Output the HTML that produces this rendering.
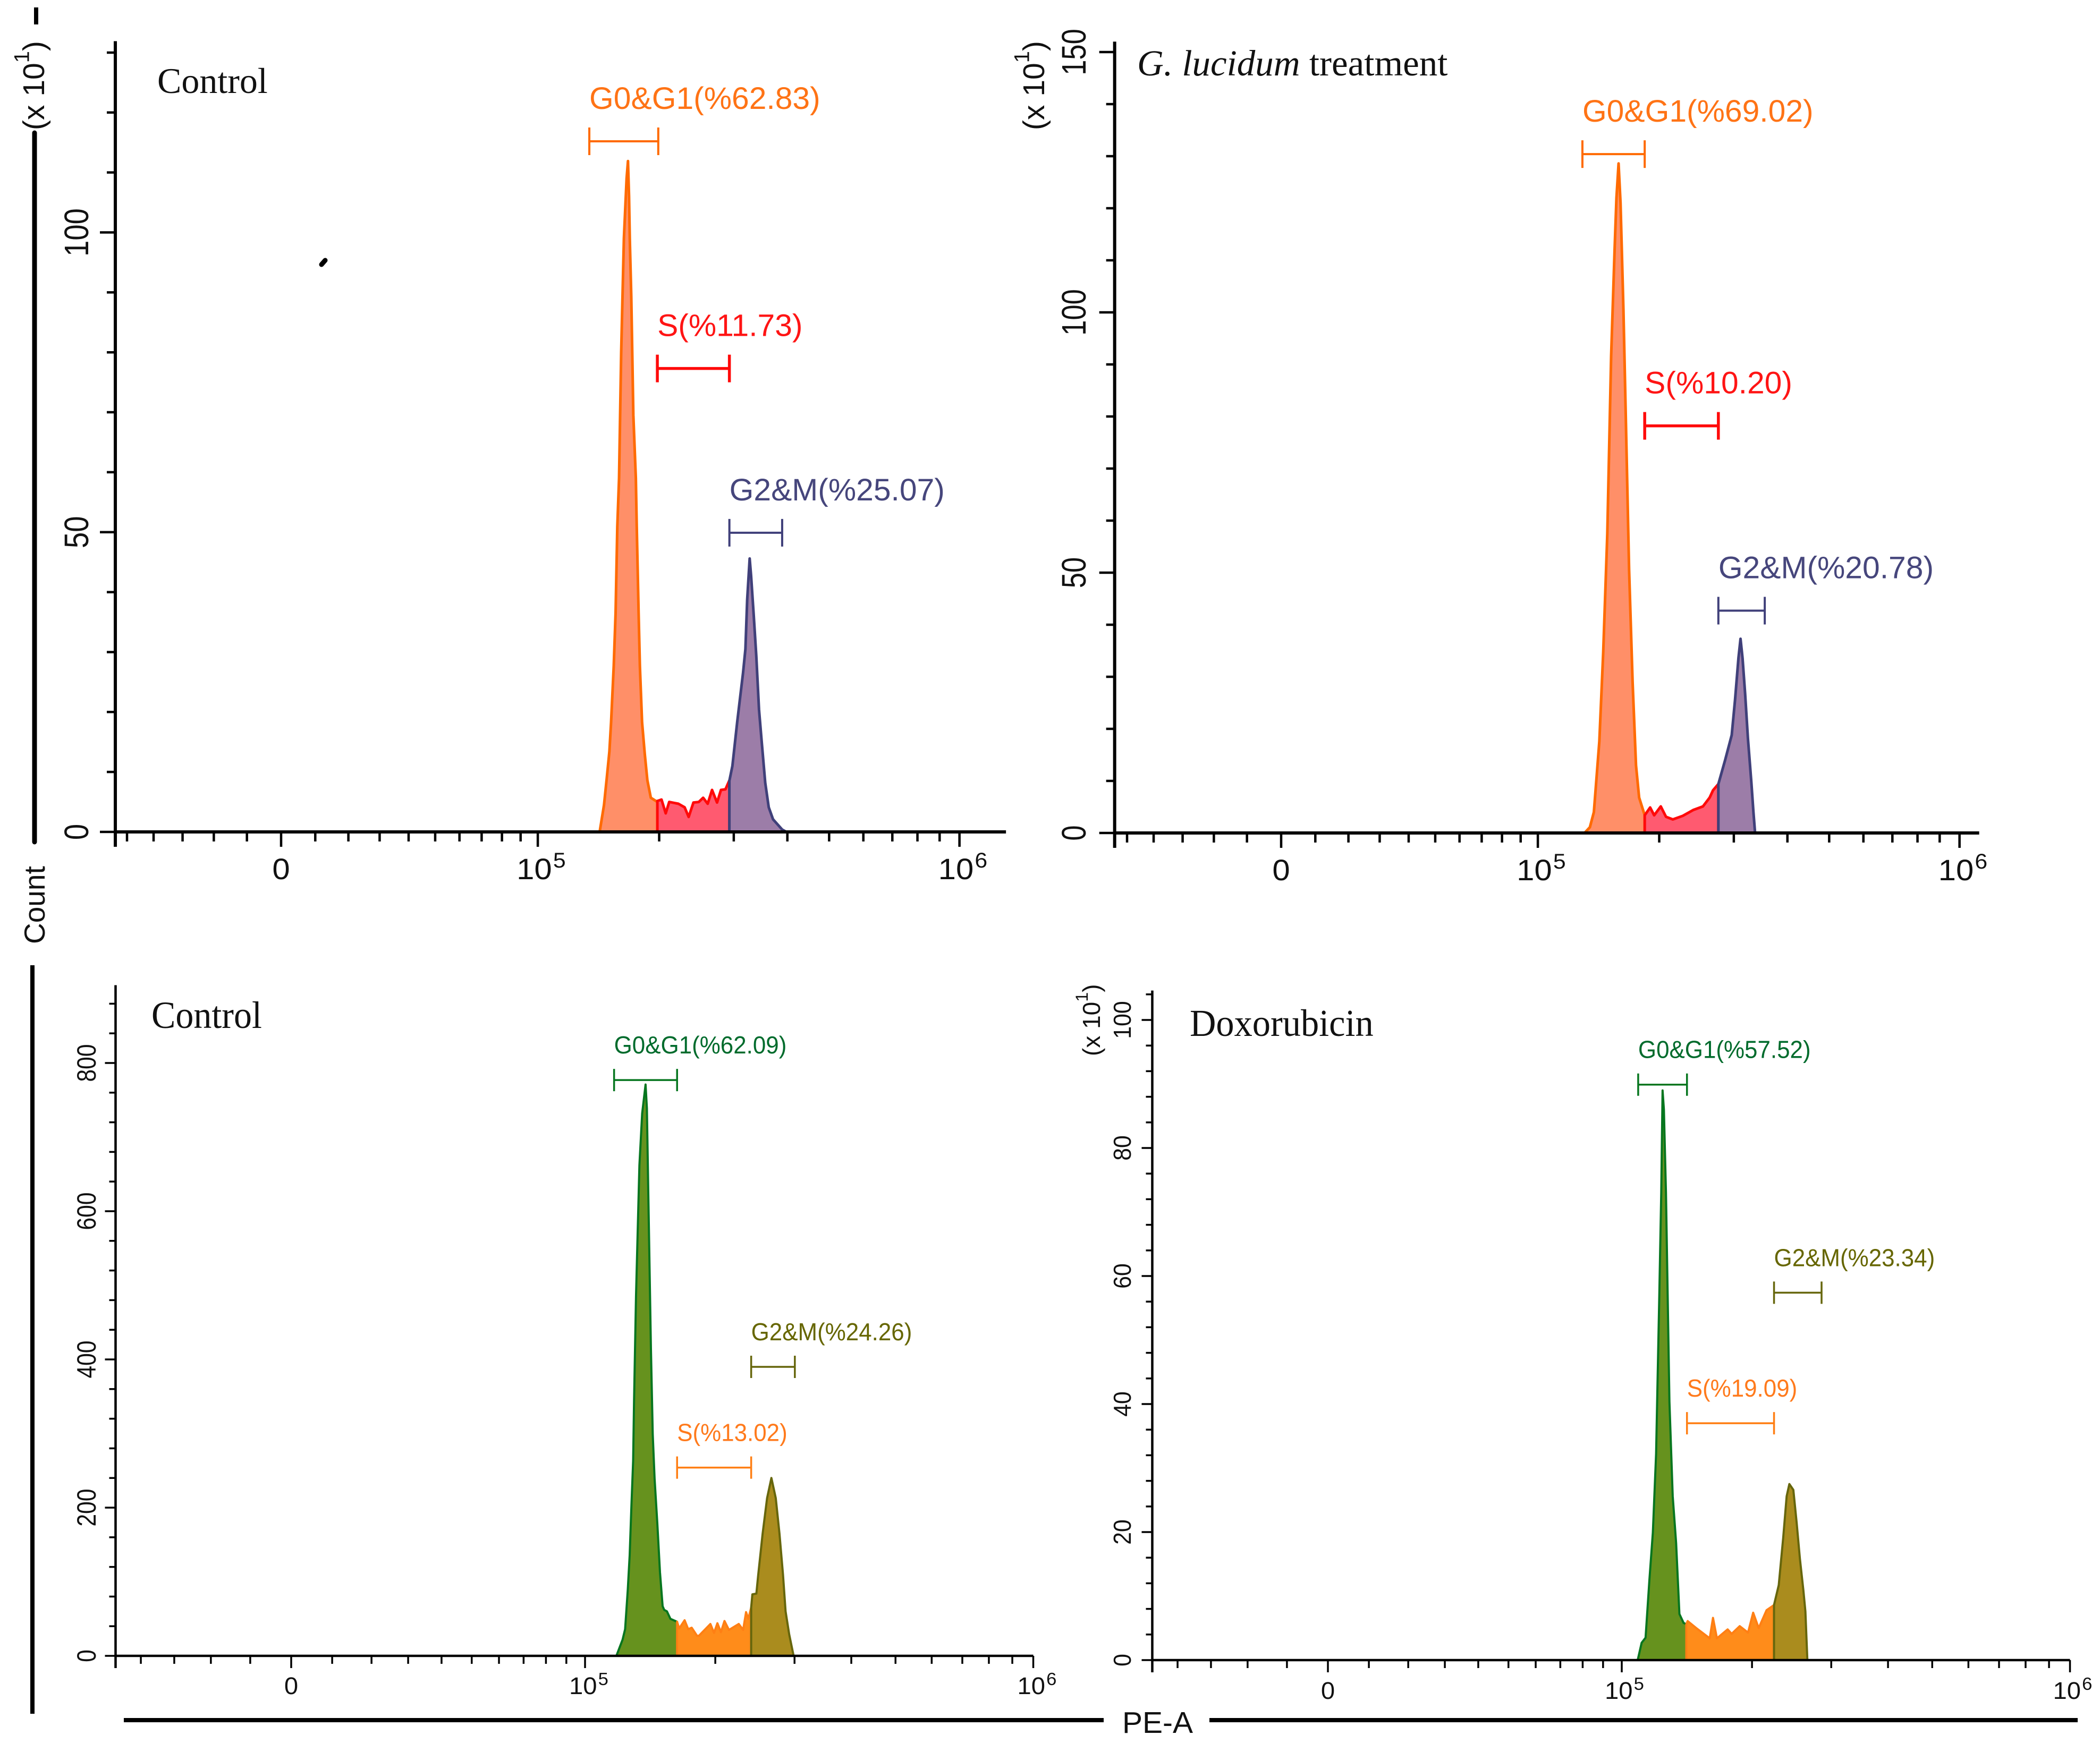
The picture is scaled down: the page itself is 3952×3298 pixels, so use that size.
<!DOCTYPE html>
<html lang="en">
<head>
<meta charset="utf-8">
<title>Cell cycle flow cytometry histograms</title>
<style>
html,body{margin:0;padding:0;background:#fff;}
svg{display:block;}
text{font-family:"Liberation Sans",sans-serif;}
.serif{font-family:"Liberation Serif",serif;}
</style>
</head>
<body>
<svg id="figure" xmlns="http://www.w3.org/2000/svg" width="3952" height="3298" viewBox="0 0 3952 3298">
  <rect x="0" y="0" width="3952" height="3298" fill="#ffffff"/>
  <line x1="68" y1="14" x2="68" y2="46" stroke="#000" stroke-width="8"/>
  <line x1="65" y1="250" x2="65" y2="1585" stroke="#000" stroke-width="9" stroke-linecap="round"/>
  <line x1="61" y1="1817" x2="61" y2="3226" stroke="#000" stroke-width="8"/>
  <text transform="translate(84,1777) rotate(-90)" font-size="55" fill="#111">Count</text>
  <line x1="233" y1="3238" x2="2077" y2="3238" stroke="#000" stroke-width="8"/>
  <line x1="2276" y1="3238" x2="3910" y2="3238" stroke="#000" stroke-width="8"/>
  <text x="2112" y="3262" font-size="57" fill="#111">PE-A</text>
  <line x1="605" y1="498" x2="612" y2="490" stroke="#000" stroke-width="9" stroke-linecap="round"/>
  <g id="panels"></g>
</svg>
<script>
// ---------- shared axis values (PE-A in thousands) ----------
const xMinorTicks = [-50,-40,-30,-20,-10,10,20,30,40,50,60,70,80,90,200,300,400,500,600,700,800,900];
const xMajorTicks = [0,100,1000];
const xTickBase = ['0','10','10'];
const xTickExponent = ['','5','6'];

// ---------- panel A: control ----------
const aPeA = [143.5,147.1,149.4,151.6,153.1,155.4,157,158.5,160.1,162,164.5,167,168.3,169.3,170,171.4,173.4,175.8,176.7,178.5,179.8,182,184.7,187.4,191,197,202.6,207.3,211.3,222.2,229.9,235,241.2,248.3,254.3,260.6,266.8,274.1,280,286.8,293.1,297.8,305.6,315.3,319.4,322.4,326.8,329.3,334,338.7,343.6,348.6,355.3,362,370.5,389,398];
const aCounts = [0,4.5,9,13.4,18.3,27.7,36.6,50.9,59,80,99,109,111.9,106,99,89.3,69.5,59,50.9,36.6,27.7,18.3,13,8.6,5.7,5.1,5.4,3.1,5,4.7,4.1,2.5,4.9,5,5.7,4.7,7,4.9,7,7.1,8.6,11,18.3,26.5,30.5,38.7,45.6,42.7,36.2,29.3,20.4,15.1,8.2,4.1,2.1,0.4,0];
const aRegionEdges = [198,293];
const aGateStart = [135.3,198,293];
const aGateEnd = [199,293,389];
const aGateLevel = [115.2,77.3,49.9];
const aGateNames = ['G0&G1','S','G2&M'];
const aGatePercent = ['62.83','11.73','25.07'];
const aYMajor = [0,50,100];
const aYMinor = [10,20,30,40,60,70,80,90,110,120,130];

// ---------- panel B: G. lucidum treatment ----------
const bPeA = [131.6,135.7,138.8,143.2,146.4,149.8,153.1,156.1,157.7,159.6,161.4,164,166.4,169.3,172.6,175.9,179,184.6,190.2,194.5,201.7,207.6,215.5,227.6,240.6,253.9,263.3,268.2,276,286.2,296.6,302,307.6,311,314.4,318.9,323.6,329.7,333.4,336.4];
const bCounts = [0,1.1,4,17.6,34.7,57.5,91.6,112,122,128.6,121,100.7,78,50.6,29,13,6.8,3.4,4.9,3.4,5.1,3.1,2.6,3.3,4.4,5.1,6.8,8.2,9.4,14,18.8,25.6,33.6,37.3,33.6,26.7,18.2,9.7,4,0];
const bRegionEdges = [184.6,276];
const bGateStart = [130,184.6,276];
const bGateEnd = [184.6,276,354.3];
const bGateLevel = [130.4,78.2,42.7];
const bGateNames = ['G0&G1','S','G2&M'];
const bGatePercent = ['69.02','10.20','20.78'];
const bYMajor = [0,50,100,150];
const bYMinor = [10,20,30,40,60,70,80,90,110,120,130,140];

// ---------- panel C: control ----------
const cPeA = [118.8,122.8,124.5,126.3,127.6,128.8,130,130.6,132,134.4,136.4,138.9,139.9,140.9,142.9,144.3,145.7,147.8,149.9,152,153.3,155.5,158.4,164,165.8,170.6,173.8,177,182,183.7,195,198.7,202.2,205.9,209.7,214.6,225.7,230.8,234.3,237,240.5,242,247,249.2,255,260.9,266.7,272.7,277.9,282.9,286.7,292,298.6];
const cCounts = [0,21.8,36,89,136,203,263,343,485,662,732,771,739,626,414,299,239,179,113,67,62,60,50,46,37,48,36,38,27,27,43,31,44,32,47,35,43,35,59,50,65,83,84,108,165,213,240,213,165,110,60,29,0];
const cRegionEdges = [164,240.5];
const cGateStart = [117.3,164,240.5];
const cGateEnd = [164,240.5,300.5];
const cGateLevel = [777,254,390];
const cGateNames = ['G0&G1','S','G2&M'];
const cGatePercent = ['62.09','13.02','24.26'];
const cYMajor = [0,200,400,600,800];
const cYMinor = [40,80,120,160,240,280,320,360,440,480,520,560,640,680,720,760,840,880];

// ---------- panel D: doxorubicin ----------
const dPeA = [109.2,111.6,114,116.4,118.6,120.7,122.8,124.1,125,125.9,127.3,129.7,132,134.4,136.8,139.9,141.9,142.9,149.6,160.5,163.3,166.7,176.3,180,187.7,195.9,201.2,207,215.6,224,229.5,234.8,239,242.3,247.3,251.5,255.8,260.3,263,265.7];
const dCounts = [0,2.7,3.5,12.5,19.9,32.2,56.8,73,89,86,73,40.4,25.6,18.3,7.2,5.8,5.6,6.1,5,3.4,6.6,3.4,4.8,4.1,5.3,4.3,7.4,5,7.8,8.6,11.7,19.1,25.6,27.5,26.6,21.5,15.8,10.9,7.6,0];
const dRegionEdges = [141.9,224];
const dGateStart = [109.5,142.4,224];
const dGateEnd = [142.4,224,285.6];
const dGateLevel = [89.9,37,57.4];
const dGateNames = ['G0&G1','S','G2&M'];
const dGatePercent = ['57.52','19.09','23.34'];
const dYMajor = [0,20,40,60,80,100];
const dYMinor = [4,8,12,16,24,28,32,36,44,48,52,56,64,68,72,76,84,88,92,96,104];

const SVGNS = 'http://www.w3.org/2000/svg';
const warmPalette = {
  stroke:['#ff6a00','#ff0a0a','#40407a'],
  fill:['#ff8f68','#ff5a70','#9c7da8'],
  text:['#ff7315','#ff1414','#46467c']
};
const greenPalette = {
  stroke:['#06761f','#ff7f14','#66660c'],
  fill:['#66921e','#ff8c1a','#aa8c1e'],
  text:['#006b2c','#ff7a1c','#666600']
};

function mk(tag, parent, attrs){
  const el = document.createElementNS(SVGNS, tag);
  for (const k in attrs) el.setAttribute(k, attrs[k]);
  parent.appendChild(el);
  return el;
}
function named(el, name){
  
  
  return el;
}
function regionPoints(pe, counts, lo, hi){
  const pts = [];
  const at = v => {
    for (let i = 1; i < pe.length; i++) {
      if (v <= pe[i]) {
        const f = (v - pe[i-1]) / (pe[i] - pe[i-1]);
        return counts[i-1] + f * (counts[i] - counts[i-1]);
      }
    }
    return 0;
  };
  pts.push([lo, at(lo)]);
  for (let i = 0; i < pe.length; i++) if (pe[i] > lo && pe[i] < hi) pts.push([pe[i], counts[i]]);
  pts.push([hi, at(hi)]);
  return pts;
}

function drawPanel(c){
  const root = document.getElementById('panels');
  const g = named(mk('g', root, {}), c.id);
  const xs = v => c.x0 + c.A * Math.asinh(v / c.w);
  const ys = v => c.y0 - c.k * v;

  // histogram regions
  const first = c.pe[0], last = c.pe[c.pe.length - 1];
  const edges = [first].concat(c.edges, [last]);
  for (let r = 0; r < 3; r++) {
    const pts = regionPoints(c.pe, c.counts, edges[r], edges[r+1]);
    let d = 'M' + xs(edges[r]).toFixed(1) + ',' + ys(0).toFixed(1);
    pts.forEach(p => { d += ' L' + xs(p[0]).toFixed(1) + ',' + ys(p[1]).toFixed(1); });
    d += ' L' + xs(edges[r+1]).toFixed(1) + ',' + ys(0).toFixed(1) + ' Z';
    const region = mk('path', g, {d:d, fill:c.pal.fill[r], stroke:c.pal.stroke[r], 'stroke-width':c.histStroke, 'stroke-linejoin':'round'});
    named(region, c.id + '-region-' + c.names[r].toLowerCase().replace('&','-'));
  }

  // gates and labels
  for (let i = 0; i < 3; i++) {
    const x1 = xs(c.gateStart[i]), x2 = xs(c.gateEnd[i]), y = ys(c.gateLevel[i]);
    const sw = (i === 1 && c.thickS) ? 5.5 : c.gateStroke;
    const gate = named(mk('path', g, {d:'M'+x1+','+(y-c.cap)+' V'+(y+c.cap)+' M'+x1+','+y+' H'+x2+' M'+x2+','+(y-c.cap)+' V'+(y+c.cap), fill:'none', stroke:c.pal.stroke[i], 'stroke-width':sw}), c.id + '-gate-' + i);
    gate.setAttribute('data-gate', c.names[i]);
    const label = mk('text', g, {transform:'translate('+x1+','+(y-c.labelGap)+') scale('+c.labelSx+',1)', 'font-size':c.labelSize, fill:c.pal.text[i]});
    label.textContent = c.names[i] + '(%' + c.percent[i] + ')';
    named(label, c.id + '-gate-label-' + i);
  }

  // axes
  const axisColor = '#000';
  named(mk('line', g, {x1:xs(c.xmin), x2:xs(c.xmax), y1:ys(0), y2:ys(0), stroke:axisColor, 'stroke-width':c.axisW}), c.id + '-x-axis');
  named(mk('line', g, {x1:xs(c.xmin), x2:xs(c.xmin), y1:ys(c.ymax), y2:ys(0) + c.xMajorLen, stroke:axisColor, 'stroke-width':c.axisW}), c.id + '-y-axis');

  xMinorTicks.filter(v => v > c.xmin && v < c.xmax).forEach(v => {
    named(mk('line', g, {x1:xs(v), x2:xs(v), y1:ys(0), y2:ys(0) + c.xMinorLen, stroke:axisColor, 'stroke-width':c.tickW}), c.id + '-x-minor-tick');
  });
  xMajorTicks.forEach((v, i) => {
    named(mk('line', g, {x1:xs(v), x2:xs(v), y1:ys(0), y2:ys(0) + c.xMajorLen, stroke:axisColor, 'stroke-width':c.tickW}), c.id + '-x-major-tick');
    const off = i === 0 ? 0 : c.expOffset;
    const t = mk('text', g, {transform:'translate('+(xs(v) - off)+','+c.xLabelY+') scale('+c.xLabelSx+',1)', 'font-size':c.xLabelSize, fill:'#111', 'text-anchor': i === 0 ? 'middle' : 'start'});
    named(t, c.id + '-x-tick-label');
    t.textContent = xTickBase[i];
    if (xTickExponent[i]) {
      const s = mk('tspan', t, {'font-size':c.xExpSize, dy:c.xExpDy, dx:2});
      s.textContent = xTickExponent[i];
    }
  });

  c.yMinor.forEach(v => {
    named(mk('line', g, {x1:xs(c.xmin) - c.yMinorLen, x2:xs(c.xmin), y1:ys(v), y2:ys(v), stroke:axisColor, 'stroke-width':c.tickW}), c.id + '-y-minor-tick');
  });
  c.yMajor.forEach(v => {
    named(mk('line', g, {x1:xs(c.xmin) - c.yMajorLen, x2:xs(c.xmin), y1:ys(v), y2:ys(v), stroke:axisColor, 'stroke-width':c.tickW}), c.id + '-y-major-tick');
    const t = mk('text', g, {transform:'translate('+c.yLabelX+','+ys(v)+') rotate(-90) scale('+c.yLabelSx+',1)', 'font-size':c.yLabelSize, fill:'#111', 'text-anchor':'middle'});
    named(t, c.id + '-y-tick-label');
    t.textContent = String(v);
  });

  // multiplier
  if (c.mult) {
    const t = mk('text', g, {transform:'translate('+c.mult.x+','+c.mult.y+') rotate(-90)', 'font-size':c.mult.size, fill:'#111'});
    named(t, c.id + '-y-multiplier');
    t.textContent = '(x 10';
    const s1 = mk('tspan', t, {'font-size':c.mult.size * 0.7, dy:-c.mult.size * 0.5});
    s1.textContent = '1';
    const s2 = mk('tspan', t, {dy:c.mult.size * 0.5});
    s2.textContent = ')';
  }

  // title
  const title = mk('text', g, {transform:'translate('+c.title.x+','+c.title.y+') scale('+c.title.sx+',1)', 'font-size':c.title.size, fill:'#111', 'class':'serif'});
  named(title, c.id + '-title');
  if (c.title.italic) {
    const it = mk('tspan', title, {'font-style':'italic'});
    it.textContent = c.title.italic;
    const rest = mk('tspan', title, {});
    rest.textContent = c.title.text;
  } else {
    title.textContent = c.title.text;
  }
}

const topStyle = {A:355, w:54.9, pal:warmPalette, histStroke:5, gateStroke:4, thickS:true, cap:26, labelGap:61, labelSize:58.8, labelSx:1,
  axisW:6, tickW:4.5, xMajorLen:28, xMinorLen:18, yMajorLen:29, yMinorLen:16, xLabelSize:56, xLabelSx:1.07, xExpSize:40, xExpDy:-22, yLabelSize:64};
const botStyle = {A:375, w:48.3, pal:greenPalette, histStroke:4, gateStroke:3.5, thickS:false, cap:21, labelGap:50, labelSize:46, labelSx:0.955,
  axisW:4.5, tickW:3.5, xMajorLen:23, xMinorLen:15, yMajorLen:20, yMinorLen:12, xLabelSize:45, xLabelSx:1.05, xExpSize:33, xExpDy:-17, yLabelSize:50};

drawPanel(Object.assign({}, topStyle, {id:'panel-control-top', x0:529, xmin:-54.7, xmax:1280, y0:1566, k:11.285, ymax:131.9,
  pe:aPeA, counts:aCounts, edges:aRegionEdges, gateStart:aGateStart, gateEnd:aGateEnd, gateLevel:aGateLevel, names:aGateNames, percent:aGatePercent,
  yMajor:aYMajor, yMinor:aYMinor, yLabelX:166, yLabelSx:0.85, xLabelY:1655, expOffset:40,
  mult:{x:83,y:245,size:57}, title:{x:296,y:175,size:68,sx:1,text:'Control'}}));

drawPanel(Object.assign({}, topStyle, {id:'panel-g-lucidum', x0:2411, xmin:-55, xmax:1110, y0:1568, k:9.8, ymax:152,
  pe:bPeA, counts:bCounts, edges:bRegionEdges, gateStart:bGateStart, gateEnd:bGateEnd, gateLevel:bGateLevel, names:bGateNames, percent:bGatePercent,
  yMajor:bYMajor, yMinor:bYMinor, yLabelX:2043, yLabelSx:0.82, xLabelY:1657, expOffset:40,
  mult:{x:1965,y:245,size:57}, title:{x:2140,y:142,size:69,sx:1,italic:'G. lucidum',text:' treatment'}}));

drawPanel(Object.assign({}, botStyle, {id:'panel-control-bottom', x0:548, xmin:-48.3, xmax:1000, y0:3117, k:1.395, ymax:905,
  pe:cPeA, counts:cCounts, edges:cRegionEdges, gateStart:cGateStart, gateEnd:cGateEnd, gateLevel:cGateLevel, names:cGateNames, percent:cGatePercent,
  yMajor:cYMajor, yMinor:cYMinor, yLabelX:180, yLabelSx:0.85, xLabelY:3189, expOffset:30,
  mult:null, title:{x:285,y:1935,size:72,sx:0.945,text:'Control'}}));

drawPanel(Object.assign({}, botStyle, {id:'panel-doxorubicin', x0:2499, xmin:-48.3, xmax:1000, y0:3125, k:12.05, ymax:104.6,
  pe:dPeA, counts:dCounts, edges:dRegionEdges, gateStart:dGateStart, gateEnd:dGateEnd, gateLevel:dGateLevel, names:dGateNames, percent:dGatePercent,
  yMajor:dYMajor, yMinor:dYMinor, yLabelX:2128, yLabelSize:46, yLabelSx:0.93, xLabelY:3198, expOffset:32,
  mult:{x:2070,y:1988,size:46}, title:{x:2239,y:1950,size:72,sx:0.95,text:'Doxorubicin'}}));
</script>
</body>
</html>
